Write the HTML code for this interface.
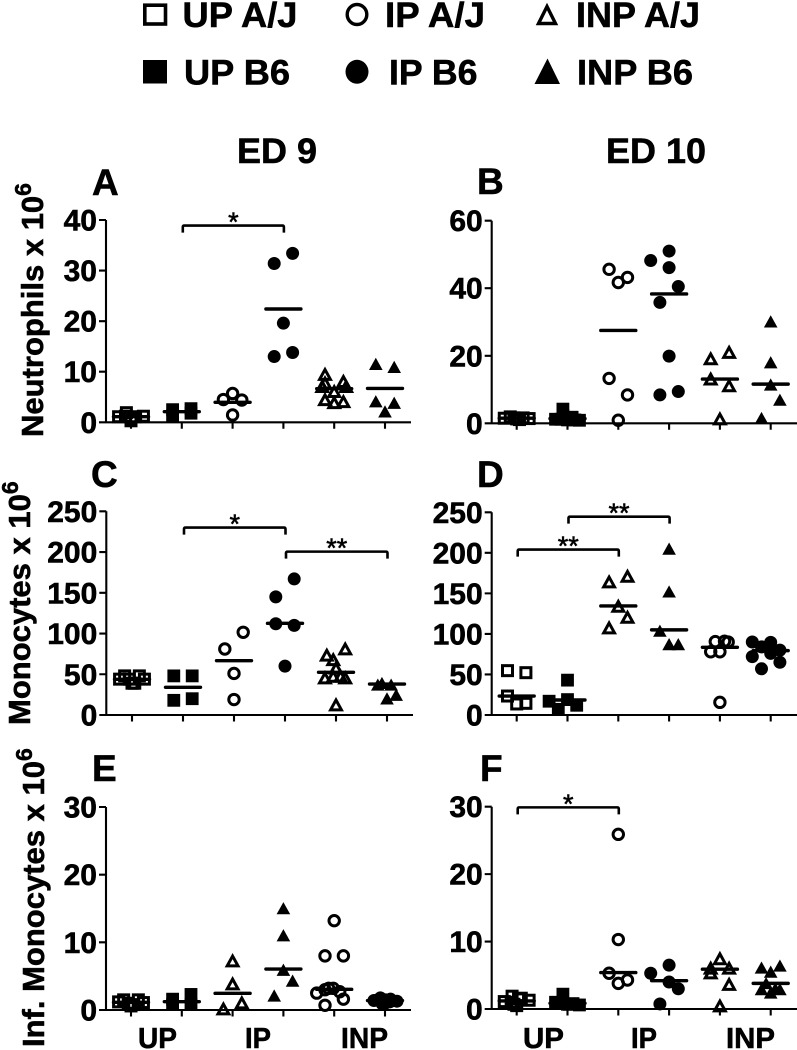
<!DOCTYPE html>
<html lang="en">
<head>
<meta charset="utf-8">
<title>Neutrophils and monocytes at ED 9 and ED 10</title>
<style>
html,body{margin:0;padding:0;background:#fff;}
svg{display:block;}
text{font-family:"Liberation Sans",Arial,sans-serif;font-weight:bold;fill:#000;stroke:#000;stroke-width:.55px;}
</style>
</head>
<body>
<svg id="figure" width="797" height="1050" viewBox="0 0 797 1050" xmlns="http://www.w3.org/2000/svg">
  <rect width="797" height="1050" fill="#fff"/>
  <g>
    <g>
      <rect x="144.8" y="5.2" width="20.7" height="18.8" fill="none" stroke="#000" stroke-width="3.6"/>
      <text x="182.5" y="27" font-size="35" textLength="115" lengthAdjust="spacingAndGlyphs">UP A/J</text>
    </g>
    <g>
      <ellipse cx="357" cy="14.5" rx="9.8" ry="10" fill="none" stroke="#000" stroke-width="3.4"/>
      <text x="385" y="27" font-size="35" textLength="100" lengthAdjust="spacingAndGlyphs">IP A/J</text>
    </g>
    <g>
      <polygon points="547,6.5 555.5,23.5 538.5,23.5" fill="none" stroke="#000" stroke-width="3.4"/>
      <text x="576" y="27" font-size="35" textLength="124" lengthAdjust="spacingAndGlyphs">INP A/J</text>
    </g>
    <g>
      <rect x="143" y="60" width="24" height="23.5" fill="#000"/>
      <text x="184" y="84.5" font-size="35" textLength="106" lengthAdjust="spacingAndGlyphs">UP B6</text>
    </g>
    <g>
      <ellipse cx="357" cy="71.8" rx="11.5" ry="12" fill="#000"/>
      <text x="389" y="84.5" font-size="35" textLength="88.5" lengthAdjust="spacingAndGlyphs">IP B6</text>
    </g>
    <g>
      <polygon points="547.5,58.5 560,84 534.5,84" fill="#000"/>
      <text x="577" y="84.5" font-size="35" textLength="116" lengthAdjust="spacingAndGlyphs">INP B6</text>
    </g>
  </g>
  <text x="237" y="163" font-size="35" textLength="80" lengthAdjust="spacingAndGlyphs">ED 9</text>
  <text x="606" y="163" font-size="35" textLength="100" lengthAdjust="spacingAndGlyphs">ED 10</text>

  <text transform="translate(43,437) rotate(-90)" font-size="31">Neutrophils x 10<tspan font-size="23" dy="-12">6</tspan></text>
  <text transform="translate(30,725) rotate(-90)" font-size="31">Monocytes x 10<tspan font-size="23" dy="-12">6</tspan></text>
  <text transform="translate(44,1047) rotate(-90)" font-size="31">Inf. Monocytes x 10<tspan font-size="23" dy="-12">6</tspan></text>

  <g>
    <text x="138" y="1048" font-size="29" textLength="39" lengthAdjust="spacingAndGlyphs">UP</text>
    <text x="245" y="1048" font-size="29" textLength="26" lengthAdjust="spacingAndGlyphs">IP</text>
    <text x="341" y="1048" font-size="29" textLength="47" lengthAdjust="spacingAndGlyphs">INP</text>
  </g>
  <g>
    <text x="523" y="1048" font-size="29" textLength="41" lengthAdjust="spacingAndGlyphs">UP</text>
    <text x="631" y="1048" font-size="29" textLength="26" lengthAdjust="spacingAndGlyphs">IP</text>
    <text x="726" y="1048" font-size="29" textLength="49" lengthAdjust="spacingAndGlyphs">INP</text>
  </g>
  <g id="panels"></g>
</svg>
<script>
// Y-axis tick labels
const neutrophilTicksED9 = [0, 10, 20, 30, 40];
const neutrophilTicksED10 = [0, 20, 40, 60];
const monocyteTicks = [0, 50, 100, 150, 200, 250];
const infMonocyteTicks = [0, 10, 20, 30];

// Marker order per panel: s=square, c=circle, t=triangle; o=open, f=filled
const markersABC = ['so', 'sf', 'co', 'cf', 'to', 'tf'];
const markersDE = ['so', 'sf', 'to', 'tf', 'co', 'cf'];
const markersF = ['so', 'sf', 'co', 'cf', 'to', 'tf'];

// Panel A: neutrophils, ED 9
const aValues = [
  [1.1, 1.2, 1.9, 0.7, 0.3, 1.1, 1.2],
  [2.5, 1.3, 2.7, 1.8],
  [4.5, 5.7, 4.4, 1.45],
  [31.4, 33.4, 19.6, 13, 13.8],
  [9.4, 7.7, 8, 6, 4.4, 4, 3.8, 7, 7],
  [11.5, 10.9, 4.1, 3.8, 2.1]
];
const aJitter = [
  [-1.35, -0.6, -0.5, 0, 0, 0.5, 1.35],
  [-1, -1, 1, 1],
  [-1, 0, 1, 0],
  [-1, 1, 0, -1, 1],
  [-1, -1, 1, 0, -1, 1, 0, 1.3, -1.3],
  [-1, 1, -1, 1, 0]
];
const aMedians = [1.1, 2.1, 3.96, 22.4, 6.65, 6.7];

// Panel B: neutrophils, ED 10
const bValues = [
  [1.5, 1.9, 1.6, 1.3, 1.1, 1.6, 1.4, 1.5],
  [4.2, 2.3, 1.8, 1.2, 1, 0.9, 1, 1.2],
  [45.6, 43.2, 41.7, 13.3, 8.4, 0.9],
  [48.2, 51, 46.1, 40.5, 35.8, 19.9, 8.4, 9.4],
  [19, 20.9, 13, 11, 1.2],
  [30.1, 18, 11.4, 6.9, 1.5]
];
const bJitter = [
  [-1.35, -0.7, -0.3, 0, 0.3, 0.7, 1.35, 0],
  [-0.5, -0.5, 0.5, -1.3, 0, 1.3, 0.8, -0.7],
  [-1, 1, 0, -1, 1, 0],
  [-2, 0, 0, 1, -1, 0, -1, 1],
  [-1, 1, -1, 1, 0],
  [0, 0, 0, 1, -1]
];
const bMedians = [1.5, 1.4, 27.5, 38.3, 13.1, 11.6];

// Panel C: monocytes, ED 9
const cValues = [
  [44, 48, 44, 39, 39, 48, 44],
  [48, 48, 18, 20],
  [81, 101.5, 51, 19],
  [145, 167, 112, 110, 60],
  [73, 80.6, 67.5, 57, 45, 45, 47, 47, 12],
  [39, 37, 37, 20, 24.5]
];
const cJitter = [
  [-1.35, -0.8, -0.3, 0, 0.3, 0.8, 1.35],
  [-1, 1, -1, 1],
  [-1, 1, 0, 0],
  [-1, 1, -1, 1, 0],
  [-1, 1, -0.3, 0, -1.2, 1, -0.3, 0.5, 0],
  [-0.55, 0.45, -1, 0, 1]
];
const cMedians = [43.8, 34, 66.7, 112.5, 52.4, 38];

// Panel D: monocytes, ED 10
const dValues = [
  [54.7, 52.2, 23.4, 13.6, 14.4],
  [43, 17, 19, 7, 12],
  [163.7, 170.6, 133.6, 120, 107],
  [204.8, 152, 103.6, 87, 87],
  [90.5, 91, 90, 78, 78, 15.6],
  [90, 89.6, 84, 80, 72, 76, 65, 57]
];
const dJitter = [
  [-1, 1, -1, 0, 1],
  [0, -2, 0, -1, 1],
  [-1, 1, 0, 1, -1],
  [0, 0, -1, 0, 1],
  [-0.5, 0.5, 0.9, -1, 0, 0],
  [-2, 0, -1, 1, -2, 0, 1, -1]
];
const dMedians = [23.4, 18.5, 134.5, 105, 83.5, 79.4];

// Panel E: inflammatory monocytes, ED 9
const eValues = [
  [1.2, 1.5, 1, 0.6, 0.8, 1.5, 1.1],
  [1.6, 0.8, 2.3, 0.8],
  [7.2, 3.8, 0.1, 1],
  [15, 11, 5.9, 4.3, 2.1],
  [13.2, 8, 8, 2.5, 3, 3.2, 3.2, 2.7, 1.6, 0.7],
  [1.4, 1.8, 1.5, 1.2, 1, 0.9, 1.6, 1.3]
];
const eJitter = [
  [-1.35, -0.8, -0.3, 0, 0.3, 0.8, 1.35],
  [-1, -1, 1, 1],
  [0, 0, -1, 1],
  [0, 0, 0, 1, -1],
  [0, -1, 1, -1.9, -1, -0.1, -0.6, 0.6, 1, -1],
  [-1.2, -0.5, 0.1, 0.5, 0, -0.3, 0.6, 1.3]
];
const eMedians = [1.13, 1.23, 2.46, 6.05, 3.05, 1.4];

// Panel F: inflammatory monocytes, ED 10
const fValues = [
  [1.9, 1.6, 1.1, 0.5, 0.7, 1.5, 1.3, 1],
  [2.2, 1, 0.7, 0.6, 0.8, 0.9, 0.7],
  [25.9, 10.3, 5.3, 4.3, 3.8],
  [6.5, 5.3, 4, 3, 0.75],
  [7.4, 6, 6, 5.3, 3.6, 0.4],
  [6.1, 6.4, 5.5, 3.8, 3, 2.9, 2.9, 2.4]
];
const fJitter = [
  [-0.5, 0.5, -1.35, 0, -0.3, 0.2, 1.35, -0.6],
  [-0.5, -1.3, 0, 1.3, 0.6, -0.6, 0.2],
  [0, 0, -1, 1, 0],
  [0, -2, 0, 1, -1],
  [0, -1, 1, -1, 1, 0],
  [-1, 1, 0, -0.5, 0.5, -1, 1, 0]
];
const fMedians = [1.2, 0.85, 5.4, 4.2, 5.9, 3.8];

// Significance brackets: from group, to group, height in axis units, stars
const aBrackets = [[1, 3, 38.9, '*']];
const bBrackets = [];
const cBrackets = [[1, 3, 230, '*'], [3, 5, 200.5, '**']];
const dBrackets = [[0, 2, 204, '**'], [1, 3, 244.6, '**']];
const eBrackets = [];
const fBrackets = [[0, 2, 29.9, '*']];

const SLOT = 9.2;
const NS = 'http://www.w3.org/2000/svg';
const root = document.getElementById('panels');

function svgEl(tag, parent) {
  const el = document.createElementNS(NS, tag);
  parent.appendChild(el);
  return el;
}

function drawMarker(parent, kind, cx, cy) {
  const shape = kind[0];
  const open = kind[1] === 'o';
  let el;
  if (shape === 's') {
    const half = open ? 5 : 6.4;
    el = svgEl('rect', parent);
    el.setAttribute('x', cx - half);
    el.setAttribute('y', cy - half);
    el.setAttribute('width', half * 2);
    el.setAttribute('height', half * 2);
  } else if (shape === 'c') {
    el = svgEl('circle', parent);
    el.setAttribute('cx', cx);
    el.setAttribute('cy', cy);
    el.setAttribute('r', open ? 5.2 : 6.5);
  } else {
    const w = open ? 5.4 : 6.8;
    const top = open ? 5.2 : 6.4;
    const bottom = open ? 4.6 : 5.8;
    el = svgEl('polygon', parent);
    el.setAttribute('points', cx + ',' + (cy - top) + ' ' + (cx + w) + ',' + (cy + bottom) + ' ' + (cx - w) + ',' + (cy + bottom));
  }
  if (open) {
    el.setAttribute('fill', 'none');
    el.setAttribute('stroke', '#000');
    el.setAttribute('stroke-width', '3');
  } else {
    el.setAttribute('fill', '#000');
  }
  return el;
}

function drawPanel(cfg) {
  const yScale = function (v) { return cfg.y0 - (v / cfg.max) * (cfg.y0 - cfg.yTop); };
  const xScale = function (g) { return cfg.first + g * cfg.step; };
  const g = svgEl('g', root);
  
  

  const letter = svgEl('text', g);
  
  
  letter.setAttribute('x', cfg.lx);
  letter.setAttribute('y', cfg.ly);
  letter.setAttribute('font-size', '37');
  letter.textContent = cfg.id.toUpperCase();

  const axes = svgEl('path', g);
  
  
  let d = 'M' + cfg.ax + ' ' + cfg.yTop + 'V' + cfg.y0 + 'M' + (cfg.ax - 7) + ' ' + cfg.y0 + 'H' + cfg.end;
  cfg.ticks.forEach(function (t) {
    d += 'M' + (cfg.ax - 7) + ' ' + yScale(t) + 'H' + cfg.ax;
  });
  cfg.values.forEach(function (_, i) {
    d += 'M' + xScale(i) + ' ' + cfg.y0 + 'v6.5';
  });
  axes.setAttribute('d', d);
  axes.setAttribute('fill', 'none');
  axes.setAttribute('stroke', '#000');
  axes.setAttribute('stroke-width', '2.1');

  cfg.ticks.forEach(function (t) {
    const label = svgEl('text', g);
    
    
    label.setAttribute('x', cfg.ax - 9);
    label.setAttribute('y', yScale(t) + 10.5);
    label.setAttribute('text-anchor', 'end');
    label.setAttribute('font-size', '30');
    label.textContent = t;
  });

  cfg.values.forEach(function (series, i) {
    const sg = svgEl('g', g);
    
    
    series.forEach(function (v, j) {
      const m = drawMarker(sg, cfg.markers[i], xScale(i) + cfg.jitter[i][j] * SLOT, yScale(v));
      
      
    });
    const bar = svgEl('line', sg);
    
    
    bar.setAttribute('x1', xScale(i) - 17.5);
    bar.setAttribute('x2', xScale(i) + 17.5);
    bar.setAttribute('y1', yScale(cfg.medians[i]));
    bar.setAttribute('y2', yScale(cfg.medians[i]));
    bar.setAttribute('stroke', '#000');
    bar.setAttribute('stroke-width', '3.4');
    bar.setAttribute('stroke-linecap', 'round');
  });

  cfg.brackets.forEach(function (b) {
    const x1 = xScale(b[0]) + 1;
    const x2 = xScale(b[1]) + 0.5;
    const y = yScale(b[2]);
    const br = svgEl('path', g);
    
    
    br.setAttribute('d', 'M' + x1 + ' ' + (y + 7) + 'V' + (y + 1.5) + 'Q' + x1 + ' ' + y + ' ' + (x1 + 1.5) + ' ' + y + 'H' + (x2 - 1.5) + 'Q' + x2 + ' ' + y + ' ' + x2 + ' ' + (y + 1.5) + 'V' + (y + 7));
    br.setAttribute('fill', 'none');
    br.setAttribute('stroke', '#000');
    br.setAttribute('stroke-width', '2.6');
    const star = svgEl('text', g);
    
    
    star.setAttribute('x', (x1 + x2) / 2);
    star.setAttribute('y', y + 5.5);
    star.setAttribute('text-anchor', 'middle');
    star.setAttribute('font-size', '27');
    star.setAttribute('style', 'font-weight:normal');
    star.textContent = b[3];
  });
}

drawPanel({ id: 'a', ax: 106, y0: 422.3, yTop: 220, max: 40, first: 131, step: 50.8, end: 411, lx: 92, ly: 195, ticks: neutrophilTicksED9, markers: markersABC, values: aValues, jitter: aJitter, medians: aMedians, brackets: aBrackets });
drawPanel({ id: 'b', ax: 491.7, y0: 423.3, yTop: 220.7, max: 60, first: 516.7, step: 50.8, end: 797, lx: 477, ly: 194, ticks: neutrophilTicksED10, markers: markersABC, values: bValues, jitter: bJitter, medians: bMedians, brackets: bBrackets });
drawPanel({ id: 'c', ax: 106.3, y0: 715, yTop: 511.3, max: 250, first: 132, step: 51, end: 413, lx: 91, ly: 487, ticks: monocyteTicks, markers: markersABC, values: cValues, jitter: cJitter, medians: cMedians, brackets: cBrackets });
drawPanel({ id: 'd', ax: 491.7, y0: 715, yTop: 512.3, max: 250, first: 516.7, step: 50.8, end: 797, lx: 477, ly: 487, ticks: monocyteTicks, markers: markersDE, values: dValues, jitter: dJitter, medians: dMedians, brackets: dBrackets });
drawPanel({ id: 'e', ax: 106, y0: 1010, yTop: 807, max: 30, first: 131, step: 50.8, end: 411, lx: 92, ly: 781, ticks: infMonocyteTicks, markers: markersDE, values: eValues, jitter: eJitter, medians: eMedians, brackets: eBrackets });
drawPanel({ id: 'f', ax: 491.7, y0: 1009, yTop: 806.7, max: 30, first: 516.7, step: 50.8, end: 797, lx: 480, ly: 781, ticks: infMonocyteTicks, markers: markersF, values: fValues, jitter: fJitter, medians: fMedians, brackets: fBrackets });
</script>
</body>
</html>
